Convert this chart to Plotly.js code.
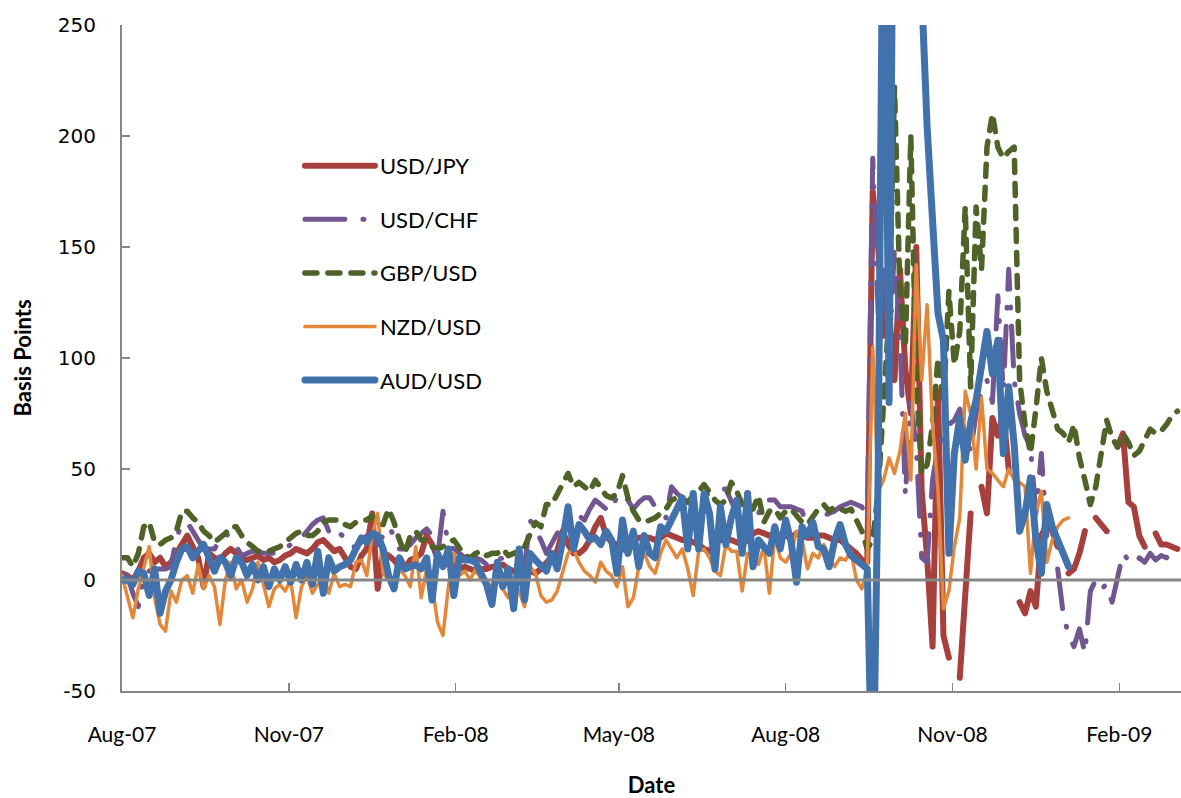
<!DOCTYPE html>
<html>
<head>
<meta charset="utf-8">
<script src="https://cdn.plot.ly/plotly-3.0.1.min.js"></script>
<style>
html,body{margin:0;padding:0;background:#fff;}
#chart{width:1181px;height:798px;}
.js-line, .legendlines path { stroke-linecap: round; stroke-linejoin: round; }
</style>
</head>
<body>
<div id="chart"></div>
<script>
const dates = [
'2007-08-01','2007-08-04','2007-08-07','2007-08-10','2007-08-13','2007-08-16','2007-08-19','2007-08-22','2007-08-25','2007-08-28','2007-08-31',
'2007-09-03','2007-09-06','2007-09-09','2007-09-12','2007-09-15','2007-09-18','2007-09-21','2007-09-24','2007-09-27','2007-09-30',
'2007-10-03','2007-10-06','2007-10-09','2007-10-12','2007-10-15','2007-10-18','2007-10-21','2007-10-24','2007-10-27','2007-10-30',
'2007-11-02','2007-11-05','2007-11-08','2007-11-11','2007-11-14','2007-11-17','2007-11-20','2007-11-23','2007-11-26','2007-11-29',
'2007-12-02','2007-12-05','2007-12-08','2007-12-11','2007-12-14','2007-12-17','2007-12-20','2007-12-23','2007-12-26','2007-12-29',
'2008-01-01','2008-01-04','2008-01-07','2008-01-10','2008-01-13','2008-01-16','2008-01-19','2008-01-22','2008-01-25','2008-01-28','2008-01-31',
'2008-02-03','2008-02-06','2008-02-09','2008-02-12','2008-02-15','2008-02-18','2008-02-21','2008-02-24','2008-02-27',
'2008-03-01','2008-03-04','2008-03-07','2008-03-10','2008-03-13','2008-03-16','2008-03-19','2008-03-22','2008-03-25','2008-03-28','2008-03-31',
'2008-04-03','2008-04-06','2008-04-09','2008-04-12','2008-04-15','2008-04-18','2008-04-21','2008-04-24','2008-04-27','2008-04-30',
'2008-05-03','2008-05-06','2008-05-09','2008-05-12','2008-05-15','2008-05-18','2008-05-21','2008-05-24','2008-05-27','2008-05-30',
'2008-06-02','2008-06-05','2008-06-08','2008-06-11','2008-06-14','2008-06-17','2008-06-20','2008-06-23','2008-06-26','2008-06-29',
'2008-07-02','2008-07-05','2008-07-08','2008-07-11','2008-07-14','2008-07-17','2008-07-20','2008-07-23','2008-07-26','2008-07-29',
'2008-08-01','2008-08-04','2008-08-07','2008-08-10','2008-08-13','2008-08-16','2008-08-19','2008-08-22','2008-08-25','2008-08-28','2008-08-31',
'2008-09-03','2008-09-06','2008-09-09','2008-09-12','2008-09-15','2008-09-18','2008-09-21','2008-09-24','2008-09-27','2008-09-30',
'2008-10-03','2008-10-06','2008-10-09','2008-10-12','2008-10-15','2008-10-18','2008-10-21','2008-10-24','2008-10-27','2008-10-30',
'2008-11-02','2008-11-05','2008-11-08','2008-11-11','2008-11-14','2008-11-17','2008-11-20','2008-11-23','2008-11-26','2008-11-29',
'2008-12-02','2008-12-05','2008-12-08','2008-12-11','2008-12-14','2008-12-17','2008-12-20','2008-12-23','2008-12-26','2008-12-29',
'2009-01-01','2009-01-04','2009-01-07','2009-01-10','2009-01-13','2009-01-16','2009-01-19','2009-01-22','2009-01-25','2009-01-28','2009-01-31',
'2009-02-03','2009-02-06','2009-02-09','2009-02-12','2009-02-15','2009-02-18','2009-02-21','2009-02-24','2009-02-27',
'2009-03-02','2009-03-05'
];

const usdJpy = [
3,2,0,4,10,12,8,10,6,8, 12,16,20,15,10,-3,12,10,9,12, 14,12,10,9,10,11,9,10,8,9, 11,12,14,13,12,14,17,18,15,13,
14,10,6,5,11,14,30,-4,12,11, 9,6,5,9,10,12,20,16,10,8, 7,7,5,6,5,4,5,5,6,6, 7,5,4,4,5,4,3,5,8,
10,13,22,16,12,12,14,18,24,28, 20,17,16,14,13,18,19,19,19,18, 19,21,20,19,18,18,17,16,14,13, 16,18,18,18,17,16,18,21,22,
21,20,20,19,20,19,21,20,19,19, 20,20,19,18,18,16,14,12,9,8,
175,150,110,120,90,140,95,75,150,40, 10,-30,85,-25,-35,null,-44,-5,30,null, 42,30,73,65,75,50,null,
-10,-15,-5,-12,20,25,22,15,null,3, 5,12,22,null,28,25,22,null,60,66, 35,33,20,15,null,21,16,16,15,14
];

const usdChf = [
2,2,-6,-12,2,4,5,5,5,6, 19,25,26,22,18,14,14,14,18,21, 19,15,11,12,13,13,12,12,12,13, 14,16,18,19,22,25,27,28,22,24,
21,19,15,15,17,20,18,16,20,24, 20,14,14,16,19,21,23,20,10,31, 15,14,12,10,9,10,9,7,6,9, 10,9,8,5,6,27,23,18,12,
17,21,24,28,31,29,27,32,36,34, 32,31,38,39,36,32,35,37,37,33, 30,28,42,39,37,35,34,36,38,39, 40,41,41,36,30,27,26,29,30,
36,36,36,33,33,33,32,31,24,27, 28,29,30,31,33,34,35,34,33,27,
190,120,140,100,150,110,38,80,60,10, 8,45,60,65,70,72,77,65,58,75, 85,90,80,128,85,140,90,75,65,60, 30,57,20,null,5,-15,-25,
-30,-22,-33,-5,0,-4,-2,-10,0,12, 9,7,10,8,12,9,11,10,12,14
];

const gbpUsd = [
10,10,6,12,24,26,17,16,18,19, 22,31,31,28,26,22,20,17,19,21, 24,24,20,17,15,13,13,13,14,15, 17,19,21,22,20,20,22,26,27,27,
27,25,24,26,27,27,29,25,25,32, 26,18,12,20,22,18,18,15,14,15, 17,18,14,11,10,12,13,11,12,12, 14,11,12,13,15,20,26,24,34,
34,39,44,48,42,44,42,40,45,41, 38,37,39,47,37,31,27,26,27,28, 30,32,36,37,36,35,38,40,43,39, 36,34,36,44,40,34,31,32,38,
26,31,32,28,31,32,29,26,25,29, 32,34,31,33,32,31,32,27,22,14,
18,40,80,120,222,130,105,200,90,48, 52,70,100,80,130,97,112,168,87,168, 140,195,210,195,190,193,195,90,70,57, 77,100,85,77,68,66,62,
70,55,45,34,42,57,72,64,60,66, 62,56,58,63,68,66,67,70,74,76
];

const nzdUsd = [
2,-8,-17,-4,6,15,-8,-20,-23,-5, -10,0,2,-6,7,-4,2,-3,-20,0, 8,-4,0,-10,-4,8,-2,-12,-4,-2, -5,0,-17,-3,2,-6,-2,2,-6,3,
-3,-2,-3,8,9,2,20,30,3,0, -2,5,2,-3,15,-8,5,-2,-19,-25, -3,12,2,4,0,5,0,0,-4,3, -4,-8,0,-5,-12,6,3,-7,-10,
-9,-5,3,12,14,8,4,2,-1,8, 4,2,-3,6,-12,-8,6,12,6,3, 12,18,14,10,14,5,-7,13,14,10, 4,2,16,13,13,-5,12,9,7,
15,-6,20,10,8,12,22,18,5,12, 10,16,10,6,10,9,13,0,-4,6,
105,40,45,55,48,58,75,45,142,90, 124,70,40,-13,-5,15,28,85,75,50, 82,50,48,45,42,50,45,44,42,3, 30,40,8,18,24,27,28,
null,null,null,null,null,null,null,null,null,null, null,null,null,null,null,null,null,null,null,null
];

const audUsd = [
0,0,-2,4,3,-7,5,-15,-5,0, 8,14,15,10,13,16,10,4,10,8, 2,10,8,2,7,0,6,-3,5,0, 6,-1,7,0,8,-2,13,-6,10,4,
6,7,9,14,19,17,21,20,14,2, -4,10,5,6,7,5,10,-9,12,6, 14,-7,10,9,9,8,3,-2,-11,8, -3,5,-13,14,-9,12,9,6,4,
12,5,18,33,14,25,22,18,19,16, 22,18,3,27,12,22,6,20,12,10, 24,22,27,32,37,14,39,14,39,30, 5,33,16,28,36,12,39,6,18,
15,12,24,14,27,17,-1,24,20,26, 15,14,6,18,25,16,11,9,8,5,
-110,50,350,80,400,420,450,430,400,265, 204,155,120,108,12,57,73,54,71,81, 97,112,93,108,57,87,61,22,30,46, 18,3,34,24,18,12,6,
null,null,null,null,null,null,null,null,null,null, null,null,null,null,null,null,null,null,null,null
];

const seriesNames = ['USD/JPY','USD/CHF','GBP/USD','NZD/USD','AUD/USD'];
const xTickVals = ['2007-08-01','2007-11-01','2008-02-01','2008-05-01','2008-08-01','2008-11-01','2009-02-01'];
const xTickText = ['Aug-07','Nov-07','Feb-08','May-08','Aug-08','Nov-08','Feb-09'];
const yTickVals = [-50,0,50,100,150,200,250];
const yTickText = ['-50','0','50','100','150','200','250'];

const seriesValues = [usdJpy, usdChf, gbpUsd, nzdUsd, audUsd];
const styles = [
  {color:'#A6403C', width:6, dash:'solid'},
  {color:'#72568F', width:5, dash:'40px,18px,1px,18px'},
  {color:'#4F6228', width:5.5, dash:'12px,11px'},
  {color:'#E3873A', width:3.5, dash:'solid'},
  {color:'#4272AB', width:7, dash:'solid'}
];

const traces = seriesNames.map((name, k) => ({
  type:'scatter', mode:'lines', name:name, x:dates, y:seriesValues[k],
  line:styles[k], connectgaps:false, legendgroup:'g'+k, hoverinfo:'skip'
}));

const axisGray = '#868686';
const layout = {
  width:1181, height:798,
  margin:{l:122, r:0, t:25, b:107},
  paper_bgcolor:'#fff', plot_bgcolor:'#fff',
  showlegend:true,
  legend:{x:0.168, y:0.82, xanchor:'left', yanchor:'top', bgcolor:'rgba(0,0,0,0)',
          font:{family:'Lato, sans-serif', size:22, color:'#000'}, itemwidth:70, tracegroupgap:22},
  xaxis:{type:'date', range:['2007-08-01','2009-03-07'], tickvals:xTickVals, ticktext:xTickText,
         showgrid:false, zeroline:false, showline:true, linecolor:axisGray, linewidth:2,
         ticks:'inside', ticklen:8, tickwidth:1.5, tickcolor:axisGray, ticklabelstandoff:24,
         tickfont:{family:'Lato, sans-serif', size:21, color:'#000'},
         title:{text:'Date', font:{family:'Lato, sans-serif', size:22, color:'#000', weight:'bold'}, standoff:32}},
  yaxis:{range:[-50,250], tickvals:yTickVals, ticktext:yTickText, showgrid:false, zeroline:false, showline:true,
         linecolor:axisGray, linewidth:2, ticks:'inside', ticklen:8, tickwidth:1.5, tickcolor:axisGray,
         ticklabelstandoff:20, tickfont:{family:'DejaVu Sans, sans-serif', size:20, color:'#000'},
         title:{text:'Basis Points', font:{family:'Lato, sans-serif', size:22, color:'#000', weight:'bold'}, standoff:20}},
  shapes:[{type:'line', xref:'paper', x0:0, x1:1, yref:'y', y0:0, y1:0, layer:'above',
           line:{color:axisGray, width:3}}]
};

Plotly.newPlot('chart', traces, layout, {displayModeBar:false, staticPlot:true});
</script>
</body>
</html>
